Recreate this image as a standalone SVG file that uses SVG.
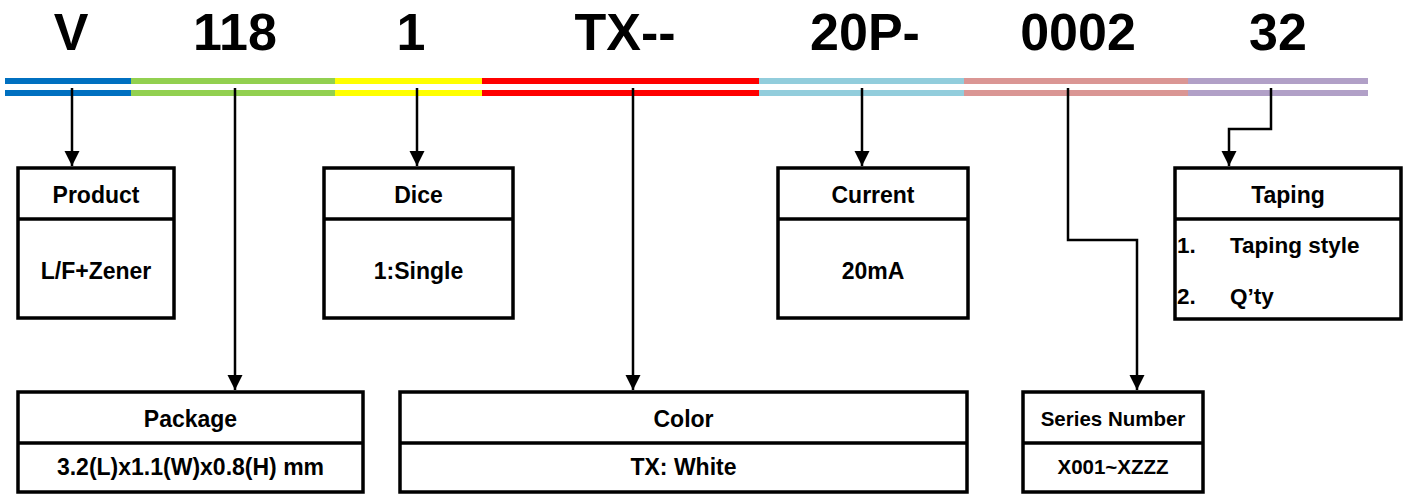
<svg xmlns="http://www.w3.org/2000/svg" width="1408" height="494" viewBox="0 0 1408 494">
<defs>
<style>
.code{font-family:"Liberation Sans",Arial,sans-serif;font-weight:bold;font-size:52px;fill:#000;text-anchor:middle}
.lbl{font-family:"Liberation Sans",Arial,sans-serif;font-weight:bold;font-size:23px;fill:#000;text-anchor:middle}
.sm{font-size:20.5px}
.lft{font-family:"Liberation Sans",Arial,sans-serif;font-weight:bold;font-size:22.5px;fill:#000}
.box{fill:#fff;stroke:#000;stroke-width:3.5}
.div{stroke:#000;stroke-width:3.5}
.con{fill:none;stroke:#000;stroke-width:2.5}
</style>
<marker id="arr" markerUnits="userSpaceOnUse" markerWidth="16" markerHeight="16" refX="15" refY="7.5" orient="auto">
<path d="M0,0 L15,7.5 L0,15 Z" fill="#000"/>
</marker>
</defs>
<rect width="1408" height="494" fill="#fff"/>
<g id="codes">
<text class="code" x="71" y="50">V</text>
<text class="code" x="235" y="50">118</text>
<text class="code" x="411" y="50">1</text>
<text class="code" x="625" y="50">TX--</text>
<text class="code" x="865" y="50">20P-</text>
<text class="code" x="1078" y="50">0002</text>
<text class="code" x="1278" y="50">32</text>
</g>
<g id="bars">
<rect x="5" y="78" width="126" height="6" fill="#0070C0"/><rect x="5" y="90" width="126" height="6" fill="#0070C0"/>
<rect x="131" y="78" width="204" height="6" fill="#92D050"/><rect x="131" y="90" width="204" height="6" fill="#92D050"/>
<rect x="335" y="78" width="147" height="6" fill="#FFFF00"/><rect x="335" y="90" width="147" height="6" fill="#FFFF00"/>
<rect x="482" y="78" width="277" height="6" fill="#FF0000"/><rect x="482" y="90" width="277" height="6" fill="#FF0000"/>
<rect x="759" y="78" width="205" height="6" fill="#92CDDC"/><rect x="759" y="90" width="205" height="6" fill="#92CDDC"/>
<rect x="964" y="78" width="224" height="6" fill="#DA9694"/><rect x="964" y="90" width="224" height="6" fill="#DA9694"/>
<rect x="1188" y="78" width="180" height="6" fill="#B1A0C7"/><rect x="1188" y="90" width="180" height="6" fill="#B1A0C7"/>
</g>
<g id="connectors">
<path class="con" d="M72,88 V166" marker-end="url(#arr)"/>
<path class="con" d="M235,88 V390" marker-end="url(#arr)"/>
<path class="con" d="M417,88 V166" marker-end="url(#arr)"/>
<path class="con" d="M633,88 V390" marker-end="url(#arr)"/>
<path class="con" d="M862,88 V166" marker-end="url(#arr)"/>
<path class="con" d="M1068,88 V240 H1137 V390" marker-end="url(#arr)"/>
<path class="con" d="M1271,88 V129 H1229 V166" marker-end="url(#arr)"/>
</g>
<g id="product">
<rect class="box" x="18" y="168" width="156" height="150"/>
<line class="div" x1="18" y1="219" x2="174" y2="219"/>
<text class="lbl" x="96" y="203">Product</text>
<text class="lbl" x="96" y="279">L/F+Zener</text>
</g>
<g id="dice">
<rect class="box" x="324" y="168" width="189" height="150"/>
<line class="div" x1="324" y1="219" x2="513" y2="219"/>
<text class="lbl" x="418.5" y="203">Dice</text>
<text class="lbl" x="418.5" y="279">1:Single</text>
</g>
<g id="current">
<rect class="box" x="778" y="168" width="190" height="150"/>
<line class="div" x1="778" y1="219" x2="968" y2="219"/>
<text class="lbl" x="873" y="203">Current</text>
<text class="lbl" x="873" y="279">20mA</text>
</g>
<g id="taping">
<rect class="box" x="1175" y="168" width="226" height="151"/>
<line class="div" x1="1175" y1="219" x2="1401" y2="219"/>
<text class="lbl" x="1288" y="203">Taping</text>
<text class="lft" x="1177" y="253">1.</text>
<text class="lft" x="1230" y="253">Taping style</text>
<text class="lft" x="1177" y="304">2.</text>
<text class="lft" x="1230" y="304">Q’ty</text>
</g>
<g id="package">
<rect class="box" x="18" y="392" width="345" height="100"/>
<line class="div" x1="18" y1="443" x2="363" y2="443"/>
<text class="lbl" x="190.5" y="427">Package</text>
<text class="lbl" x="190.5" y="475">3.2(L)x1.1(W)x0.8(H) mm</text>
</g>
<g id="color">
<rect class="box" x="400" y="392" width="567" height="100"/>
<line class="div" x1="400" y1="443" x2="967" y2="443"/>
<text class="lbl" x="683.5" y="427">Color</text>
<text class="lbl" x="683.5" y="475">TX: White</text>
</g>
<g id="series">
<rect class="box" x="1023" y="392" width="180" height="100"/>
<line class="div" x1="1023" y1="443" x2="1203" y2="443"/>
<text class="lbl sm" x="1113" y="426">Series Number</text>
<text class="lbl sm" x="1113" y="474">X001~XZZZ</text>
</g>
</svg>
